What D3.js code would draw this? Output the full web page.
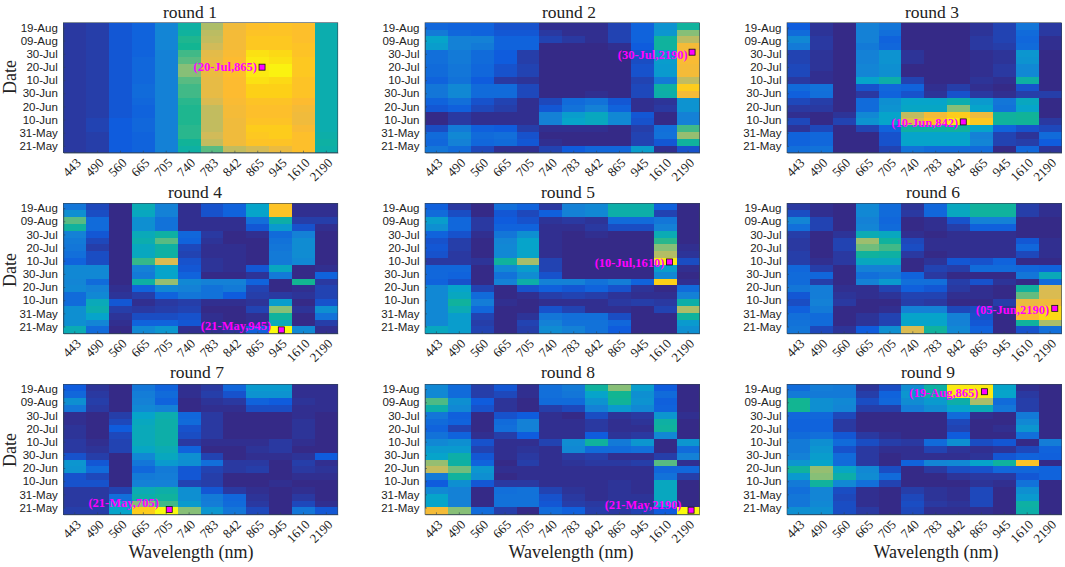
<!DOCTYPE html>
<html>
<head>
<meta charset="utf-8">
<script src="https://cdn.jsdelivr.net/npm/d3@7"></script>
<style>
  body { margin: 0; background: #fff; }
  text { fill: #222; }
  .title, .axis-label, .x-axis text { font-family: "Liberation Serif", serif; }
  .title { font-size: 17.5px; }
  .axis-label { font-size: 18px; }
  .x-axis text { font-size: 13px; }
  .y-axis text { font-family: "Liberation Sans", sans-serif; font-size: 11.5px; }
  .axis path, .axis line { stroke: #345; stroke-width: 0.6; }
  .cell { shape-rendering: crispEdges; }
  .peak-label { font-family: "Liberation Serif", serif; font-size: 12.5px; font-weight: bold; fill: #f0f; }
</style>
</head>
<body>
<svg id="chart" width="1065" height="567"></svg>
<script>
"use strict";

const wavelengths = ["443", "490", "560", "665", "705", "740", "783", "842", "865", "945", "1610", "2190"];
const dates = ["19-Aug", "14-Aug", "09-Aug", "04-Aug", "30-Jul", "25-Jul", "20-Jul", "15-Jul", "10-Jul", "05-Jul",
  "30-Jun", "25-Jun", "20-Jun", "15-Jun", "10-Jun", "05-Jun", "31-May", "26-May", "21-May"];
const dateTicks = ["19-Aug", "09-Aug", "30-Jul", "20-Jul", "10-Jul", "30-Jun", "20-Jun", "10-Jun", "31-May", "21-May"];
const roundNames = ["round 1", "round 2", "round 3", "round 4", "round 5", "round 6", "round 7", "round 8", "round 9"];

// brightest cell of each round
const peakDates = ["20-Jul", "30-Jul", "10-Jun", "21-May", "10-Jul", "05-Jun", "21-May", "21-May", "19-Aug"];
const peakWaves = ["865", "2190", "842", "945", "1610", "2190", "705", "2190", "865"];

// one row per date (top to bottom), one value per wavelength
const round1 = [
  [3,4,9,12,21,37,55,67,71,72,71,35],
  [3,4,9,12,21,38,57,68,72,72,71,35],
  [3,4,9,12,21,41,58,68,73,73,71,35],
  [3,4,9,12,21,40,60,68,73,73,72,35],
  [3,4,9,12,20,44,64,69,77,76,72,35],
  [3,4,9,13,20,46,65,70,78,77,73,35],
  [3,4,9,13,20,50,66,71,78,79,73,35],
  [3,4,9,13,20,50,66,71,78,79,73,35],
  [3,4,9,13,20,46,65,70,77,76,72,35],
  [3,4,9,14,20,44,65,70,75,75,72,35],
  [3,4,9,14,20,44,65,70,75,75,72,35],
  [3,4,9,13,20,42,62,69,72,72,70,35],
  [3,4,9,12,20,41,58,68,71,71,68,35],
  [3,4,9,12,20,41,58,68,71,71,67,35],
  [3,5,10,13,20,41,58,67,72,72,67,35],
  [3,5,10,13,20,42,58,67,74,74,69,35],
  [3,4,10,12,20,42,60,67,73,74,71,36],
  [3,4,10,12,20,39,58,67,72,72,71,37],
  [3,4,10,12,20,37,46,58,61,66,71,36],
];
const round2 = [
  [13,12,12,8,8,1,1,1,5,12,25,38],
  [18,13,12,9,9,3,1,1,5,12,26,50],
  [30,20,20,12,12,5,3,1,5,12,38,57],
  [28,20,18,12,12,0,0,0,1,10,38,68],
  [15,18,14,10,4,0,0,0,0,8,28,69],
  [15,18,14,10,4,0,0,0,0,7,28,69],
  [14,17,13,8,5,0,0,0,0,8,27,68],
  [14,17,13,8,5,0,0,0,0,8,27,68],
  [12,16,10,3,2,0,0,0,0,5,18,58],
  [17,22,14,14,6,0,0,0,0,6,37,74],
  [17,22,14,14,6,0,0,1,0,6,36,68],
  [12,15,8,5,1,6,14,16,9,1,2,25],
  [9,11,6,4,1,9,16,20,12,1,3,25],
  [0,3,1,1,1,20,28,32,22,9,0,20],
  [0,3,1,1,1,20,30,32,22,8,0,20],
  [7,18,11,10,4,1,1,1,0,4,15,44],
  [14,22,14,15,8,0,0,0,0,5,16,52],
  [13,20,13,14,9,1,0,0,0,5,9,38],
  [17,14,6,1,1,5,10,13,13,28,1,8],
];
const round3 = [
  [10,2,0,20,17,0,0,0,2,5,17,3],
  [14,2,0,20,15,0,0,0,2,5,14,3],
  [22,3,0,20,12,0,0,0,3,5,13,1],
  [18,3,0,18,13,0,0,0,3,4,14,1],
  [5,2,0,20,25,2,0,0,1,2,26,0],
  [5,2,0,20,25,2,0,0,1,2,25,0],
  [6,2,0,21,24,0,0,0,1,3,22,0],
  [6,1,0,21,24,0,0,0,1,3,22,0],
  [3,1,0,30,36,5,0,0,2,1,37,0],
  [14,16,0,8,13,12,1,4,1,0,8,0],
  [11,15,0,3,12,8,2,8,3,1,4,4],
  [6,4,0,14,24,30,30,35,27,17,32,0],
  [3,3,0,14,25,31,31,50,30,16,30,0],
  [1,0,2,22,30,58,68,74,67,38,39,0],
  [6,0,5,25,30,62,72,78,73,38,39,3],
  [2,6,0,5,12,37,37,38,30,12,8,6],
  [12,13,0,0,8,30,30,30,20,5,2,14],
  [12,13,0,0,8,30,30,30,21,5,4,10],
  [15,16,0,0,5,16,14,14,14,0,13,2],
];
const round4 = [
  [17,6,0,34,20,1,8,12,30,72,1,1],
  [24,7,0,32,20,1,8,12,30,72,1,1],
  [46,14,0,24,16,1,1,1,15,36,4,4],
  [38,14,0,24,16,1,1,1,9,27,8,1],
  [20,9,0,33,37,13,3,0,1,14,20,0],
  [18,6,0,35,46,12,2,0,0,16,23,0],
  [17,4,0,32,37,6,1,1,0,17,23,0],
  [15,7,0,32,37,5,1,1,0,18,23,0],
  [12,7,0,43,62,8,2,1,0,18,22,0],
  [22,22,0,20,30,9,2,1,9,32,0,1],
  [22,22,0,18,30,12,0,0,2,18,0,12],
  [21,14,0,37,52,22,20,20,12,0,40,3],
  [22,20,1,12,22,20,16,18,5,0,1,5],
  [14,22,2,4,12,17,16,10,4,3,2,5],
  [14,33,9,1,3,4,1,1,2,28,0,8],
  [24,35,4,3,4,5,0,0,5,50,2,24],
  [24,30,2,7,7,8,1,0,1,38,0,16],
  [24,21,1,12,12,9,1,0,1,33,0,4],
  [34,14,0,22,26,1,1,2,11,80,22,1],
];
const round5 = [
  [11,3,0,15,12,3,20,22,36,36,11,0],
  [14,7,0,9,6,11,20,22,36,36,5,0],
  [28,13,3,10,8,2,3,2,14,14,17,0],
  [24,13,3,12,12,1,1,3,7,7,20,0],
  [12,8,1,17,24,1,0,1,0,0,34,0],
  [8,4,0,21,30,1,0,0,0,0,42,0],
  [9,4,0,22,30,1,0,0,0,0,50,1],
  [8,3,0,22,30,1,0,0,0,0,56,2],
  [3,3,2,38,54,5,0,0,0,0,78,7],
  [13,13,0,22,28,5,0,0,0,0,28,1],
  [13,12,0,16,23,8,0,0,0,0,22,0],
  [12,8,0,20,36,20,20,16,19,12,75,1],
  [22,30,5,0,8,11,9,12,8,2,0,14],
  [22,32,14,0,1,4,5,4,2,1,1,20],
  [22,38,19,1,0,1,1,1,3,4,3,36],
  [22,34,13,0,0,8,5,1,1,0,5,55],
  [22,28,5,0,2,17,15,15,7,0,0,38],
  [22,28,4,0,5,20,16,16,13,0,0,27],
  [32,28,5,0,4,23,20,16,10,0,0,24],
];
const round6 = [
  [3,1,0,22,14,2,13,32,38,38,4,1],
  [7,1,0,22,14,3,13,32,38,38,4,1],
  [21,5,0,20,13,0,1,8,20,20,0,0],
  [15,5,0,21,14,0,1,4,11,11,0,0],
  [4,0,2,34,32,1,0,1,1,1,0,0],
  [3,0,5,53,38,6,1,1,1,1,9,1],
  [3,0,5,48,44,7,1,1,1,1,13,1],
  [4,0,3,38,37,3,0,1,1,1,6,1],
  [4,1,3,32,32,0,2,9,8,12,0,0],
  [13,4,0,20,20,0,5,4,14,14,13,12],
  [14,13,0,15,17,12,3,0,0,0,17,33],
  [14,4,0,20,27,15,15,4,8,2,0,14],
  [17,19,1,1,5,11,9,3,1,0,38,62],
  [9,19,2,1,2,5,5,1,1,0,47,62],
  [7,20,3,0,0,4,3,0,0,4,66,67],
  [11,18,0,0,1,20,20,6,7,1,70,76],
  [15,14,0,2,5,30,30,20,8,0,70,76],
  [16,14,0,2,5,30,30,20,9,0,38,55],
  [17,6,2,10,24,62,38,22,12,0,8,15],
];
const round7 = [
  [10,2,0,17,12,1,3,13,27,27,1,1],
  [13,3,0,19,14,1,4,8,25,25,1,1],
  [24,4,0,20,12,0,2,3,12,10,2,1],
  [17,3,0,22,20,0,1,1,7,7,1,1],
  [1,0,4,30,35,13,3,0,0,0,1,0],
  [1,0,6,32,36,14,3,0,0,0,2,0],
  [2,0,10,33,36,8,3,0,0,0,2,0],
  [2,0,6,33,36,7,3,0,0,0,2,0],
  [3,1,5,33,36,3,1,1,1,3,1,0],
  [3,2,5,31,34,12,0,0,2,3,0,0],
  [8,4,0,22,32,24,5,0,1,1,2,10],
  [26,9,0,17,27,24,15,3,3,0,4,1],
  [25,14,0,13,18,9,5,3,4,0,3,2],
  [8,6,0,18,19,9,4,0,0,0,1,1],
  [8,8,0,20,20,5,4,0,0,1,0,0],
  [3,3,5,34,36,24,9,3,1,0,1,0],
  [3,3,15,36,38,24,18,13,2,0,3,0],
  [3,3,30,50,44,27,19,14,3,0,6,1],
  [4,4,30,74,80,50,26,17,6,0,17,9],
];
const round8 = [
  [22,14,4,9,1,15,18,38,50,28,10,0],
  [22,14,4,6,1,15,17,30,40,24,14,0],
  [45,24,10,2,0,14,14,25,39,25,11,0],
  [36,22,8,2,0,4,6,20,27,22,12,0],
  [17,11,0,8,10,1,0,7,2,3,26,1],
  [14,12,0,14,20,1,1,3,1,2,37,0],
  [12,5,0,15,20,1,1,3,1,1,38,0],
  [16,12,1,4,10,1,1,10,2,3,22,0],
  [22,24,8,1,1,5,23,38,18,26,0,26],
  [27,27,5,1,2,1,22,14,14,15,0,14],
  [30,36,9,1,3,1,3,4,1,1,4,20],
  [52,37,12,0,4,1,2,3,3,4,46,1],
  [58,48,26,1,1,1,1,1,1,1,13,13],
  [18,38,24,0,1,1,1,1,1,1,16,4],
  [10,24,9,3,3,1,1,1,2,1,32,0],
  [22,20,0,15,16,5,2,1,2,1,32,0],
  [30,20,0,16,16,8,3,1,2,2,32,0],
  [30,20,0,16,16,9,4,3,3,2,30,0],
  [68,50,14,4,0,14,11,4,3,5,10,80],
];
const round9 = [
  [14,19,18,2,7,23,37,78,78,30,1,0],
  [18,18,18,4,12,26,36,78,78,30,3,0],
  [40,24,22,7,13,23,27,36,55,14,4,0],
  [40,24,21,4,4,19,23,30,34,17,4,0],
  [13,13,6,0,0,0,0,14,1,0,18,0],
  [12,12,3,0,0,0,0,6,0,0,22,0],
  [12,12,3,0,0,0,0,5,0,1,26,0],
  [14,15,9,3,1,0,0,10,0,0,15,0],
  [18,24,14,7,4,3,14,24,7,9,0,19],
  [18,26,8,3,1,1,5,2,1,2,6,12],
  [20,28,14,3,0,1,1,1,2,9,12,11],
  [26,30,14,3,0,12,21,22,30,38,72,0],
  [38,52,31,22,7,0,3,7,8,13,13,12],
  [27,50,36,23,14,0,0,2,3,3,9,12],
  [18,38,22,15,5,0,0,0,2,1,16,0],
  [15,21,7,1,0,4,2,1,6,0,24,0],
  [17,21,6,1,0,6,2,1,6,0,27,0],
  [17,22,7,1,0,7,3,2,6,0,37,0],
  [24,24,7,3,0,6,1,1,1,0,36,0],
];
const rounds = [round1, round2, round3, round4, round5, round6, round7, round8, round9];

// layout
const panelLefts = [63.3, 425, 787];
const panelTops = [22.7, 203.3, 384.3];
const panelW = 274.5;
const panelH = 130;
const titleCentres = [190, 569, 932, 195, 568, 933, 197, 568, 928];
const titleYs = [18, 198, 378];
const dateLabelY = [77, 270, 450];
const xLabelCentres = [191, 571, 936];
// the markers do not sit exactly on the cell centres in the original
const markerNudge = [[4.3, 0], [4, -1.3], [4.7, 0], [0.7, 0], [4.3, 0.5], [4.7, -1], [3, -1.3], [3, -0.7], [3, 4]];
const labelNudge = [[-5, 0], [-4.5, 2.3], [-5, 0.7], [-10, -3.7], [-5, 0.7], [-5.7, 2], [-10.3, -6.7], [-9.7, -5.3], [-6, 1.3]];

const colorStops = [0, 10, 20, 30, 40, 50, 60, 70, 75, 80];
const colorValues = ["#352a87", "#0f5cdd", "#1481d6", "#06a4ca", "#12b592", "#87bf77", "#d1bb59", "#fdbb30", "#fdd017", "#f9fb0e"];
const color = d3.scaleLinear()
  .domain(colorStops)
  .range(colorValues)
  .interpolate(d3.interpolateRgb);

const svg = d3.select("#chart");

function drawPanel(i) {
  const col = i % 3;
  const row = Math.floor(i / 3);
  const left = panelLefts[col];
  const top = panelTops[row];

  const x = d3.scaleBand().domain(wavelengths).range([0, panelW]);
  const y = d3.scaleBand().domain(dates).range([0, panelH]);
  // the date labels are squeezed a little compared with the cells
  const yTick = d3.scalePoint().domain(dateTicks).range([4.8, 123.2]);

  const g = svg.append("g").attr("transform", `translate(${left},${top})`);

  g.selectAll("g.row")
    .data(rounds[i])
    .enter()
    .append("g")
    .attr("class", "row")
    .selectAll("rect")
    .data((values, r) => values.map((v, c) => ({ v: v, date: dates[r], wave: wavelengths[c] })))
    .enter()
    .append("rect")
    .attr("class", "cell")
    .attr("x", (d) => x(d.wave))
    .attr("y", (d) => y(d.date))
    .attr("width", x.bandwidth() + 0.5)
    .attr("height", y.bandwidth() + 0.5)
    .attr("fill", (d) => color(d.v));

  g.append("g")
    .attr("class", "axis x-axis")
    .attr("transform", `translate(0,${panelH})`)
    .call(d3.axisBottom(x).tickSize(-2).tickSizeOuter(0))
    .selectAll("text")
    .attr("text-anchor", "end")
    .attr("y", 0)
    .attr("dy", 0)
    .attr("transform", "translate(7,11) rotate(-45)");

  g.append("g")
    .attr("class", "axis y-axis")
    .call(d3.axisLeft(yTick).tickSize(-2).tickSizeOuter(0).tickPadding(5.5));

  g.append("rect")
    .attr("width", panelW)
    .attr("height", panelH)
    .attr("fill", "none")
    .attr("stroke", "#345")
    .attr("stroke-width", 0.6);

  svg.append("text")
    .attr("class", "title")
    .attr("x", titleCentres[i])
    .attr("y", titleYs[row])
    .attr("text-anchor", "middle")
    .text(roundNames[i]);

  if (col === 0) {
    svg.append("text")
      .attr("class", "axis-label")
      .attr("transform", `translate(16,${dateLabelY[row]}) rotate(-90)`)
      .attr("text-anchor", "middle")
      .text("Date");
  }
  if (row === 2) {
    svg.append("text")
      .attr("class", "axis-label")
      .attr("x", xLabelCentres[col])
      .attr("y", 558)
      .attr("text-anchor", "middle")
      .text("Wavelength (nm)");
  }

  // peak marker and its label
  const mx = x(peakWaves[i]) + x.bandwidth() / 2 + markerNudge[i][0];
  const my = y(peakDates[i]) + y.bandwidth() / 2 + markerNudge[i][1];
  g.append("rect")
    .attr("x", mx - 3)
    .attr("y", my - 3)
    .attr("width", 6)
    .attr("height", 6)
    .attr("fill", "#f0f")
    .attr("stroke", "#111")
    .attr("stroke-width", 0.8);
  g.append("text")
    .attr("class", "peak-label")
    .attr("x", mx + labelNudge[i][0])
    .attr("y", my + labelNudge[i][1])
    .attr("dy", "0.33em")
    .attr("text-anchor", "end")
    .text(`(${peakDates[i]},${peakWaves[i]})`);
}

rounds.forEach((_, i) => drawPanel(i));
</script>
</body>
</html>
